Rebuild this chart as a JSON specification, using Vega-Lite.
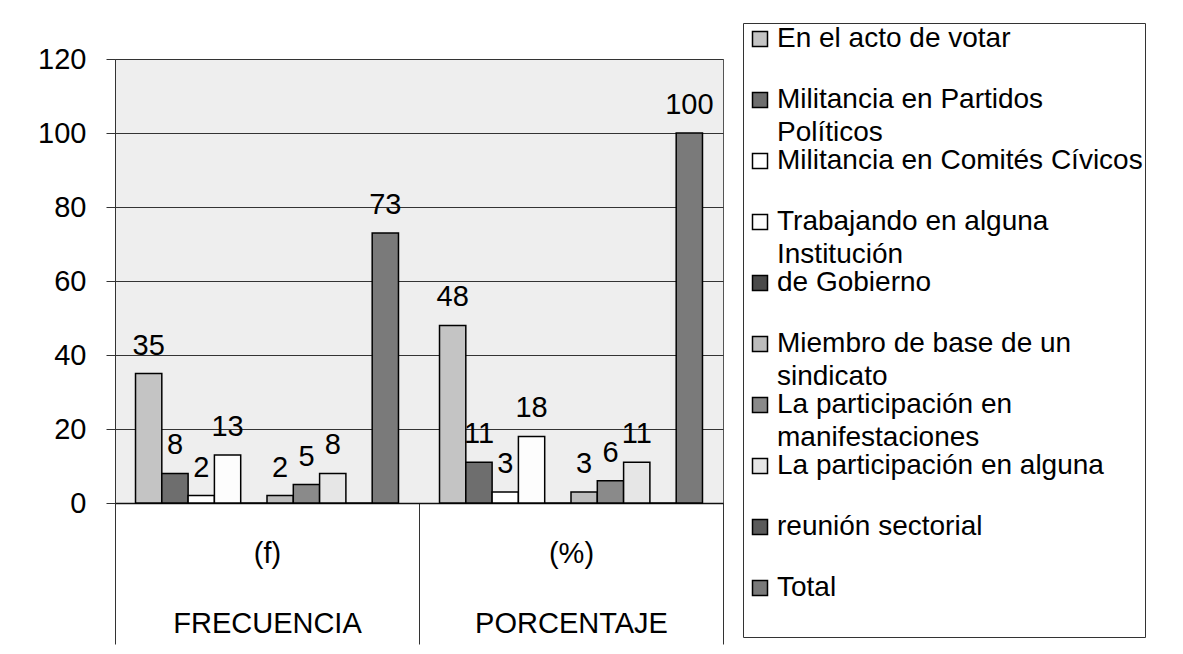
{
  "$schema": "https://vega.github.io/schema/vega-lite/v6.json",
  "autosize": {"type": "none"},
  "padding": {"left": 115, "top": 59, "right": 460, "bottom": 151},
  "width": 608,
  "height": 444,
  "background": "white",
  "config": {
    "font": "Liberation Sans",
    "view": {"fill": "#eeeeee", "stroke": "#555555", "strokeWidth": 1},
    "style": {"guide-label": {"lineHeight": 33}}
  },
  "data": {
    "values": [
      {"grupo": "FRECUENCIA", "medida": "(f)", "serie": "En el acto de votar", "valor": 35},
      {"grupo": "FRECUENCIA", "medida": "(f)", "serie": "Militancia en Partidos Políticos", "valor": 8},
      {"grupo": "FRECUENCIA", "medida": "(f)", "serie": "Militancia en Comités Cívicos", "valor": 2},
      {"grupo": "FRECUENCIA", "medida": "(f)", "serie": "Trabajando en alguna Institución", "valor": 13},
      {"grupo": "FRECUENCIA", "medida": "(f)", "serie": "de Gobierno", "valor": 0},
      {"grupo": "FRECUENCIA", "medida": "(f)", "serie": "Miembro de base de un sindicato", "valor": 2},
      {"grupo": "FRECUENCIA", "medida": "(f)", "serie": "La participación en manifestaciones", "valor": 5},
      {"grupo": "FRECUENCIA", "medida": "(f)", "serie": "La participación en alguna", "valor": 8},
      {"grupo": "FRECUENCIA", "medida": "(f)", "serie": "reunión sectorial", "valor": 0},
      {"grupo": "FRECUENCIA", "medida": "(f)", "serie": "Total", "valor": 73},
      {"grupo": "PORCENTAJE", "medida": "(%)", "serie": "En el acto de votar", "valor": 48},
      {"grupo": "PORCENTAJE", "medida": "(%)", "serie": "Militancia en Partidos Políticos", "valor": 11},
      {"grupo": "PORCENTAJE", "medida": "(%)", "serie": "Militancia en Comités Cívicos", "valor": 3},
      {"grupo": "PORCENTAJE", "medida": "(%)", "serie": "Trabajando en alguna Institución", "valor": 18},
      {"grupo": "PORCENTAJE", "medida": "(%)", "serie": "de Gobierno", "valor": 0},
      {"grupo": "PORCENTAJE", "medida": "(%)", "serie": "Miembro de base de un sindicato", "valor": 3},
      {"grupo": "PORCENTAJE", "medida": "(%)", "serie": "La participación en manifestaciones", "valor": 6},
      {"grupo": "PORCENTAJE", "medida": "(%)", "serie": "La participación en alguna", "valor": 11},
      {"grupo": "PORCENTAJE", "medida": "(%)", "serie": "reunión sectorial", "valor": 0},
      {"grupo": "PORCENTAJE", "medida": "(%)", "serie": "Total", "valor": 100}
    ]
  },
  "encoding": {
    "x": {
      "field": "grupo",
      "type": "nominal",
      "sort": ["FRECUENCIA", "PORCENTAJE"],
      "scale": {"paddingInner": 0, "paddingOuter": 0},
      "axis": {
        "title": null,
        "labelExpr": "datum.value == 'FRECUENCIA' ? ['(f)', 'FRECUENCIA'] : datum.value == 'PORCENTAJE' ? ['(%)', 'PORCENTAJE'] : ''",
        "labelFontSize": 29,
        "labelColor": "black",
        "labelLimit": 400,
        "labelLineHeight": 70,
        "labelBaseline": "alphabetic",
        "labelPadding": -82,
        "labelAngle": 0,
        "tickBand": "extent",
        "tickSize": 141,
        "tickColor": "#333333",
        "tickWidth": 1,
        "domainColor": "#111111",
        "domainWidth": 1.5
      }
    },
    "xOffset": {
      "field": "serie",
      "type": "nominal",
      "sort": ["En el acto de votar", "Militancia en Partidos Políticos", "Militancia en Comités Cívicos", "Trabajando en alguna Institución", "de Gobierno", "Miembro de base de un sindicato", "La participación en manifestaciones", "La participación en alguna", "reunión sectorial", "Total"],
      "scale": {"paddingInner": 0, "paddingOuter": 0.78}
    },
    "y": {
      "field": "valor",
      "type": "quantitative",
      "scale": {"domain": [0, 120]},
      "axis": {
        "title": null,
        "values": [0, 20, 40, 60, 80, 100, 120],
        "labelFontSize": 29,
        "labelColor": "black",
        "labelPadding": 20,
        "tickSize": 9,
        "tickColor": "#333333",
        "domainColor": "#333333",
        "grid": true,
        "gridColor": "#333333",
        "gridWidth": 1
      }
    }
  },
  "layer": [
    {
      "mark": {"type": "bar", "stroke": "black", "strokeWidth": 1.5},
      "encoding": {
        "color": {
          "field": "serie",
          "type": "nominal",
          "scale": {
            "domain": ["En el acto de votar", "Militancia en Partidos Políticos", "Militancia en Comités Cívicos", "Trabajando en alguna Institución", "de Gobierno", "Miembro de base de un sindicato", "La participación en manifestaciones", "La participación en alguna", "reunión sectorial", "Total"],
            "range": ["#c4c4c4", "#6e6e6e", "#ffffff", "#fdfdfd", "#4a4a4a", "#bcbcbc", "#8a8a8a", "#e6e6e6", "#5a5a5a", "#7a7a7a"]
          },
          "legend": {
            "title": null,
            "orient": "none",
            "legendX": 628,
            "legendY": -36,
            "padding": 2,
            "strokeColor": "#333333",
            "fillColor": "white",
            "symbolType": "square",
            "symbolSize": 225,
            "symbolStrokeColor": "black",
            "symbolStrokeWidth": 1.5,
            "symbolOffset": 1,
            "labelFontSize": 28,
            "labelColor": "black",
            "labelLimit": 500,
            "labelOffset": 3,
            "labelBaseline": "middle",
            "rowPadding": 0,
            "labelExpr": "datum.label == 'Militancia en Partidos Políticos' ? ['Militancia en Partidos', 'Políticos'] : datum.label == 'Trabajando en alguna Institución' ? ['Trabajando en alguna', 'Institución'] : datum.label == 'Miembro de base de un sindicato' ? ['Miembro de base de un', 'sindicato'] : datum.label == 'La participación en manifestaciones' ? ['La participación en', 'manifestaciones'] : [datum.label, '']"
          }
        }
      }
    },
    {
      "transform": [{"filter": "datum.valor > 0"}],
      "mark": {"type": "text", "dy": -19, "baseline": "alphabetic", "fontSize": 29, "color": "black"},
      "encoding": {
        "text": {"field": "valor", "type": "quantitative"}
      }
    }
  ]
}
